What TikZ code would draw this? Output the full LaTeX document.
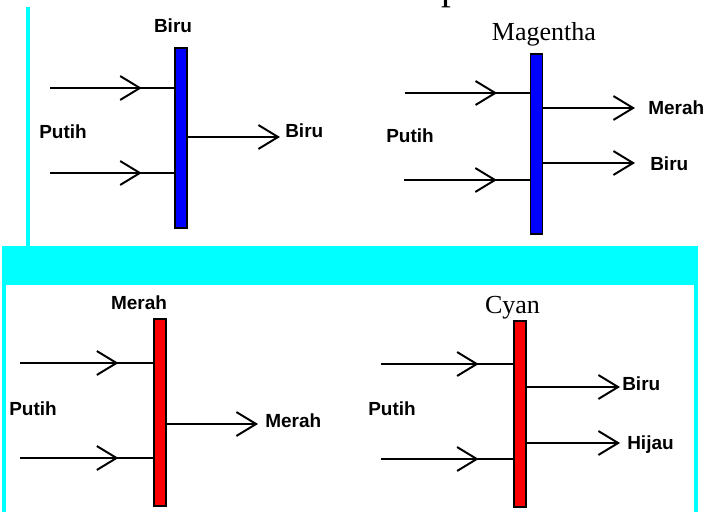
\documentclass[tikz,border=0pt]{standalone}
\usepackage{fontspec}
\setmainfont{Liberation Serif}
\setsansfont{Liberation Sans}
\usetikzlibrary{arrows.meta,decorations.markings}
\definecolor{aqua}{RGB}{0,255,255}
\definecolor{filterblue}{RGB}{0,0,255}
\definecolor{filterred}{RGB}{255,0,0}

\begin{document}
\begin{tikzpicture}[
            x=0.025cm,
            y=-0.025cm,
            >={Straight Barb[length=14pt,width=17pt]},
            filter/.style={draw=black, line width=1.4pt, minimum width=0.3cm, inner sep=0pt},
            lbl/.style={font=\sffamily\bfseries\fontsize{13.5}{16}\selectfont, inner sep=0pt},
            serif/.style={font=\fontsize{18.5}{22}\selectfont, inner sep=0pt},
            ray/.style={line width=1.4pt},
            inray/.style={ray, postaction={decorate},
                decoration={markings, mark=at position 0.74 with {\arrow{>}}}},
            outray/.style={ray, ->}
        ]
        \useasboundingbox (0,0) rectangle (709,512);

        % cyan frame
        \fill[aqua] (26,7) rectangle (30,246);
        \fill[aqua] (2,246) rectangle (698,285);
        \fill[aqua] (2,285) rectangle (6,512);
        \fill[aqua] (694,285) rectangle (698,512);
        \node[font=\fontsize{28}{32}\selectfont, inner sep=0pt, anchor=base west] (judul) at (441,0) {p};

        % filter biru
        \node[filter, fill=filterblue, minimum height=4.5cm] (f1) at (181,138) {};
        \node[lbl, anchor=base] (t1) at (173,33) {Biru};
        \node[lbl, anchor=base] (p1) at (63,138) {Putih};
        \coordinate (a1) at (50,88);
        \coordinate (b1) at (50,173);
        \coordinate (c1) at (280,137);
        \draw[inray] (a1) -- (a1 -| f1.west);
        \draw[inray] (b1) -- (b1 -| f1.west);
        \draw[outray] (f1.east |- c1) -- (c1);
        \node[lbl, anchor=base west] (o1) at (285,137) {Biru};

        % filter magentha
        \node[filter, fill=filterblue, minimum height=4.5cm] (f2) at (536.5,144) {};
        \node[serif, anchor=base] (t2) at (544,41) {Magentha};
        \node[lbl, anchor=base] (p2) at (410,142) {Putih};
        \coordinate (a2) at (405,93);
        \coordinate (b2) at (404,180);
        \coordinate (c2) at (635,108);
        \coordinate (d2) at (635,163);
        \draw[inray] (a2) -- (a2 -| f2.west);
        \draw[inray] (b2) -- (b2 -| f2.west);
        \draw[outray] (f2.east |- c2) -- (c2);
        \draw[outray] (f2.east |- d2) -- (d2);
        \node[lbl, anchor=base west] (o2) at (648,114) {Merah};
        \node[lbl, anchor=base west] (q2) at (650,170) {Biru};

        % filter merah
        \node[filter, fill=filterred, minimum height=4.675cm] (f3) at (160,412.5) {};
        \node[lbl, anchor=base] (t3) at (139,309) {Merah};
        \node[lbl, anchor=base] (p3) at (33,415) {Putih};
        \coordinate (a3) at (20,363);
        \coordinate (b3) at (20,458);
        \coordinate (c3) at (258,424);
        \draw[inray] (a3) -- (a3 -| f3.west);
        \draw[inray] (b3) -- (b3 -| f3.west);
        \draw[outray] (f3.east |- c3) -- (c3);
        \node[lbl, anchor=base west] (o3) at (265,427) {Merah};

        % filter cyan
        \node[filter, fill=filterred, minimum height=4.65cm] (f4) at (520,414) {};
        \node[serif, anchor=base] (t4) at (512.5,313) {Cyan};
        \node[lbl, anchor=base] (p4) at (392,415) {Putih};
        \coordinate (a4) at (381,364);
        \coordinate (b4) at (381,459);
        \coordinate (c4) at (620,387);
        \coordinate (d4) at (620,443);
        \draw[inray] (a4) -- (a4 -| f4.west);
        \draw[inray] (b4) -- (b4 -| f4.west);
        \draw[outray] (f4.east |- c4) -- (c4);
        \draw[outray] (f4.east |- d4) -- (d4);
        \node[lbl, anchor=base west] (o4) at (622,390) {Biru};
        \node[lbl, anchor=base west] (q4) at (627,449) {Hijau};

    \end{tikzpicture}
\end{document}
